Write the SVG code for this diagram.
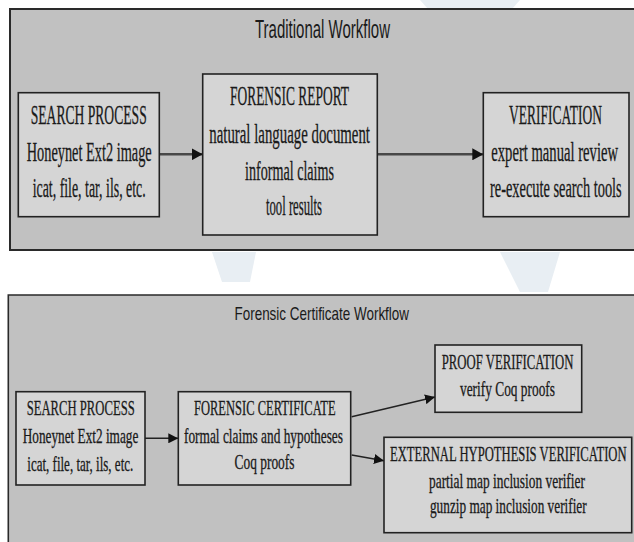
<svg xmlns="http://www.w3.org/2000/svg" width="634" height="542" viewBox="0 0 634 542">
<defs>
<style>
.pfill{fill:#c1c1c1;stroke:none}
.pedge{fill:none;stroke:#2a2a2a;stroke-width:2}
.box{fill:#d5d5d5;stroke:#222;stroke-width:1.6}
.t{font-family:"Liberation Serif","Times New Roman",serif;fill:#1a1a1a;stroke:#1a1a1a;stroke-width:0.3}
.big{font-size:27px}
.sm{font-size:20.5px}
.title{font-family:"Liberation Sans",Arial,sans-serif;fill:#1a1a1a}
.c1{stroke:#484848;stroke-width:2.4;fill:none}
.c2{stroke:#222;stroke-width:1.5;fill:none}
</style>
<marker id="ah1" markerUnits="userSpaceOnUse" markerWidth="11" markerHeight="12" refX="11" refY="6" orient="auto">
<path d="M0,0 L11,6 L0,12 z" fill="#111"/>
</marker>
<marker id="ah2" markerUnits="userSpaceOnUse" markerWidth="10" markerHeight="10" refX="10" refY="5" orient="auto">
<path d="M0,0 L10,5 L0,10 z" fill="#111"/>
</marker>
</defs>
<rect width="634" height="542" fill="#fff"/>
<g id="watermark" fill="#e8eef3">
<polygon points="420,0 520,0 512,9 428,9"/>
<polygon points="212,252 256,252 250,282 222,282"/>
<polygon points="500,252 560,252 548,292 520,292"/>
</g>
<g id="panel-traditional">
<rect class="pfill" x="10" y="9" width="624" height="241"/>
<path class="pedge" d="M634,9 H10 V250 H634"/>
<text class="title" x="255" y="38.3" font-size="25" textLength="135" lengthAdjust="spacingAndGlyphs">Traditional Workflow</text>
</g>
<g id="panel-certificate">
<rect class="pfill" x="8.3" y="295" width="625.7" height="247"/>
<path class="pedge" d="M634,295 H8.3 V542" style="stroke-width:1.6"/>
<text class="title" x="234.5" y="320" font-size="18.6" textLength="174.5" lengthAdjust="spacingAndGlyphs">Forensic Certificate Workflow</text>
</g>
<g id="connectors">
<line class="c1" x1="159.3" y1="154.3" x2="202.7" y2="154.3" marker-end="url(#ah1)"/>
<line class="c1" x1="377.3" y1="154.3" x2="483.3" y2="154.3" marker-end="url(#ah1)"/>
<line class="c2" x1="145" y1="438.3" x2="178.3" y2="438.3" marker-end="url(#ah2)"/>
<line class="c2" x1="351.7" y1="416.7" x2="435" y2="397" marker-end="url(#ah2)"/>
<line class="c2" x1="351.7" y1="455" x2="384" y2="460.7" marker-end="url(#ah2)"/>
</g>
<g id="t-search">
<rect class="box" x="18.3" y="92.7" width="141" height="124"/>
<g transform="scale(0.5,1)">
<text class="t big" x="61.4" y="124.5" textLength="232" lengthAdjust="spacingAndGlyphs">SEARCH PROCESS</text>
<text class="t big" x="53.4" y="161.5" textLength="250" lengthAdjust="spacingAndGlyphs">Honeynet Ext2 image</text>
<text class="t big" x="65.4" y="197.5" textLength="226" lengthAdjust="spacingAndGlyphs">icat, file, tar, ils, etc.</text>
</g>
</g>
<g id="t-report">
<rect class="box" x="202.7" y="74" width="174.6" height="161"/>
<g transform="scale(0.5,1)">
<text class="t big" x="460" y="105.5" textLength="238" lengthAdjust="spacingAndGlyphs">FORENSIC REPORT</text>
<text class="t big" x="418.6" y="143" textLength="321.4" lengthAdjust="spacingAndGlyphs">natural language document</text>
<text class="t big" x="490" y="180" textLength="178" lengthAdjust="spacingAndGlyphs">informal claims</text>
<text class="t big" x="532" y="215.5" textLength="112" lengthAdjust="spacingAndGlyphs">tool results</text>
</g>
</g>
<g id="t-verification">
<rect class="box" x="483.3" y="92.7" width="145.7" height="124"/>
<g transform="scale(0.5,1)">
<text class="t big" x="1018" y="124" textLength="186" lengthAdjust="spacingAndGlyphs">VERIFICATION</text>
<text class="t big" x="982.6" y="161" textLength="253.4" lengthAdjust="spacingAndGlyphs">expert manual review</text>
<text class="t big" x="980" y="197.3" textLength="263.4" lengthAdjust="spacingAndGlyphs">re-execute search tools</text>
</g>
</g>
<g id="c-search">
<rect class="box" x="16" y="391.7" width="129" height="93.3"/>
<g transform="scale(0.55,1)">
<text class="t sm" x="48.55" y="415" textLength="196.4" lengthAdjust="spacingAndGlyphs">SEARCH PROCESS</text>
<text class="t sm" x="41.27" y="443" textLength="210.2" lengthAdjust="spacingAndGlyphs">Honeynet Ext2 image</text>
<text class="t sm" x="49.64" y="470.7" textLength="192.7" lengthAdjust="spacingAndGlyphs">icat, file, tar, ils, etc.</text>
</g>
</g>
<g id="c-certificate">
<rect class="box" x="178.3" y="391.7" width="172.4" height="93.3"/>
<g transform="scale(0.55,1)">
<text class="t sm" x="352.7" y="415" textLength="257.5" lengthAdjust="spacingAndGlyphs">FORENSIC CERTIFICATE</text>
<text class="t sm" x="334.5" y="443" textLength="289.1" lengthAdjust="spacingAndGlyphs">formal claims and hypotheses</text>
<text class="t sm" x="426.4" y="469.5" textLength="109.1" lengthAdjust="spacingAndGlyphs">Coq proofs</text>
</g>
</g>
<g id="c-proof">
<rect class="box" x="435" y="345" width="146.7" height="67.3"/>
<g transform="scale(0.55,1)">
<text class="t sm" x="803.1" y="369.3" textLength="239.5" lengthAdjust="spacingAndGlyphs">PROOF VERIFICATION</text>
<text class="t sm" x="836.4" y="396.5" textLength="172.7" lengthAdjust="spacingAndGlyphs">verify Coq proofs</text>
</g>
</g>
<g id="c-external">
<rect class="box" x="384" y="437.3" width="247.7" height="95.4"/>
<g transform="scale(0.55,1)">
<text class="t sm" x="709.1" y="461" textLength="430.2" lengthAdjust="spacingAndGlyphs">EXTERNAL HYPOTHESIS VERIFICATION</text>
<text class="t sm" x="780" y="488" textLength="283.6" lengthAdjust="spacingAndGlyphs">partial map inclusion verifier</text>
<text class="t sm" x="781.8" y="513.5" textLength="284.9" lengthAdjust="spacingAndGlyphs">gunzip map inclusion verifier</text>
</g>
</g>
</svg>
